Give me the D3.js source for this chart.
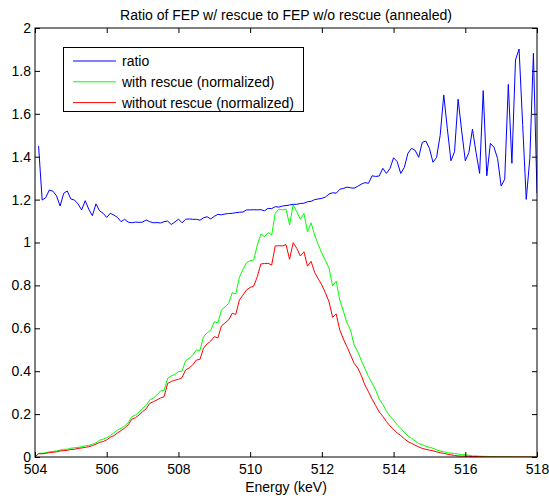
<!DOCTYPE html>
<html><head><meta charset="utf-8">
<script src="https://cdn.jsdelivr.net/npm/d3@7"></script>
<style>body{margin:0;background:#fff} text{font-family:"Liberation Sans",Arial,sans-serif}</style>
</head><body><svg id="c" width="549" height="500"></svg>
<script>
const energyStart = 504, energyStep = 0.1;
const xTicks = [504, 506, 508, 510, 512, 514, 516, 518];
const yTicks = [0, 0.2, 0.4, 0.6, 0.8, 1, 1.2, 1.4, 1.6, 1.8, 2];
const titleText = "Ratio of FEP w/ rescue to FEP w/o rescue (annealed)";
const xLabelText = "Energy (keV)";
const seriesNames = ["ratio", "with rescue (normalized)", "without rescue (normalized)"];
const seriesColors = ["#0000ff", "#00ff00", "#ff0000"];

const ratio = [null,1.45,1.198,1.209,1.245,1.239,1.218,1.170,1.229,1.240,
1.203,1.198,1.180,1.152,1.195,1.155,1.125,1.180,1.148,1.136,
1.117,1.136,1.128,1.117,1.097,1.108,1.095,1.092,1.095,1.094,
1.095,1.105,1.097,1.092,1.093,1.091,1.097,1.100,1.084,1.095,
1.109,1.092,1.108,1.110,1.108,1.108,1.104,1.115,1.120,1.110,
1.122,1.131,1.129,1.133,1.135,1.136,1.139,1.141,1.142,1.152,
1.152,1.153,1.152,1.153,1.148,1.159,1.158,1.167,1.165,1.170,
1.172,1.175,1.178,1.178,1.182,1.183,1.190,1.192,1.200,1.203,
1.206,1.212,1.226,1.232,1.230,1.248,1.252,1.258,1.255,1.253,
1.262,1.272,1.279,1.276,1.311,1.308,1.310,1.346,1.322,1.345,
1.395,1.377,1.322,1.350,1.416,1.439,1.430,1.397,1.467,1.473,
1.439,1.374,1.397,1.500,1.688,1.530,1.381,1.423,1.668,1.520,
1.381,1.419,1.528,1.420,1.322,1.708,1.311,1.462,1.444,1.392,
1.263,1.295,1.737,1.369,1.851,1.902,1.550,1.201,1.392,1.882,
1.230];

const withRescue = [0,0.018,0.017,0.020,0.024,0.026,0.028,0.032,0.036,0.036,
0.041,0.043,0.045,0.048,0.052,0.054,0.060,0.066,0.078,0.083,
0.090,0.100,0.113,0.125,0.134,0.145,0.160,0.188,0.195,0.210,
0.227,0.240,0.266,0.275,0.289,0.308,0.310,0.367,0.378,0.385,
0.398,0.400,0.449,0.460,0.475,0.499,0.497,0.560,0.580,0.590,
0.631,0.625,0.685,0.700,0.716,0.766,0.760,0.838,0.875,0.906,
0.915,0.918,0.988,1.040,1.027,1.046,1.035,1.136,1.155,1.152,
1.156,1.082,1.175,1.144,1.108,1.136,1.050,1.092,1.035,0.990,
0.950,0.915,0.880,0.797,0.820,0.732,0.680,0.625,0.592,0.522,
0.491,0.450,0.413,0.375,0.345,0.312,0.270,0.245,0.215,0.190,
0.172,0.150,0.134,0.115,0.098,0.087,0.075,0.063,0.058,0.050,
0.045,0.041,0.033,0.028,0.025,0.020,0.018,0.016,0.014,0.011,
0.010,0.008,0.005,0.005,0.004,0.003,0.003,0.002,0.002,0.001,
0.001,0.001,0.001,0,0,0,0,0,0,0,
0];

const withoutRescue = [0,0.015,0.015,0.017,0.020,0.022,0.024,0.028,0.030,0.031,
0.035,0.036,0.040,0.042,0.045,0.048,0.053,0.060,0.068,0.072,
0.080,0.092,0.100,0.112,0.123,0.135,0.150,0.176,0.183,0.195,
0.211,0.225,0.250,0.258,0.266,0.275,0.281,0.343,0.352,0.358,
0.362,0.370,0.406,0.415,0.430,0.452,0.455,0.507,0.527,0.540,
0.561,0.555,0.611,0.625,0.639,0.670,0.665,0.732,0.755,0.779,
0.790,0.797,0.841,0.900,0.902,0.903,0.895,0.984,0.985,0.984,
0.990,0.922,0.999,0.973,0.937,0.957,0.890,0.912,0.860,0.830,
0.802,0.765,0.724,0.651,0.667,0.592,0.550,0.514,0.476,0.437,
0.415,0.380,0.336,0.304,0.270,0.240,0.210,0.190,0.165,0.145,
0.129,0.112,0.100,0.085,0.072,0.064,0.055,0.047,0.040,0.036,
0.032,0.029,0.024,0.020,0.017,0.013,0.010,0.007,0.005,0.004,
0.004,0.003,0.002,0.002,0.001,0.001,0,0,0,0,
0,0,0,0,0,0,0,0,0,0,
0];

const energies = ratio.map((_, i) => +(energyStart + i * energyStep).toFixed(1));

const L = 35, R = 537, T = 28, B = 457;
const svg = d3.select("#c");
svg.append("rect").attr("width", 549).attr("height", 500).attr("fill", "#fff");

const x = d3.scaleLinear().domain([504, 518]).range([L, R]);
const y = d3.scaleLinear().domain([0, 2]).range([B, T]);

const plot = svg.append("g");
plot.append("clipPath").attr("id", "clip").append("rect")
  .attr("x", L).attr("y", T).attr("width", R - L).attr("height", B - T);

const line = d3.line().defined(d => d[1] != null).x(d => x(d[0])).y(d => y(d[1]));
const allSeries = [ratio, withRescue, withoutRescue];
allSeries.forEach((s, k) => {
  plot.append("path")
    .datum(energies.map((e, i) => [e, s[i]]))
    .attr("fill", "none").attr("stroke", seriesColors[k]).attr("stroke-width", 1)
    .attr("clip-path", "url(#clip)")
    .attr("d", line);
});

const fs = 14;
function styleAxis(g) {
  g.select(".domain").remove();
  g.selectAll("line").attr("stroke", "#000");
  g.selectAll("text").attr("font-size", fs).attr("fill", "#000").style("font-family", '"Liberation Sans",Arial,sans-serif');
}
svg.append("g").attr("transform", `translate(0,${B})`)
  .call(d3.axisBottom(x).tickValues(xTicks).tickSize(-5).tickPadding(7).tickFormat(d3.format("d")))
  .call(styleAxis);
svg.append("g").attr("transform", `translate(0,${T})`)
  .call(d3.axisTop(x).tickValues(xTicks).tickSize(-5).tickFormat(""))
  .call(styleAxis);
svg.append("g").attr("transform", `translate(${L},0)`)
  .call(d3.axisLeft(y).tickValues(yTicks).tickSize(-5).tickPadding(4).tickFormat(d3.format("~g")))
  .call(styleAxis);
svg.append("g").attr("transform", `translate(${R},0)`)
  .call(d3.axisRight(y).tickValues(yTicks).tickSize(-5).tickFormat(""))
  .call(styleAxis);

svg.append("rect").attr("x", L).attr("y", T).attr("width", R - L).attr("height", B - T)
  .attr("fill", "none").attr("stroke", "#000").attr("stroke-width", 1);

svg.append("text").attr("x", (L + R) / 2).attr("y", 20).attr("text-anchor", "middle")
  .attr("font-size", fs).text(titleText);
svg.append("text").attr("x", (L + R) / 2).attr("y", 492).attr("text-anchor", "middle")
  .attr("font-size", fs).text(xLabelText);

// legend
const lg = svg.append("g");
lg.append("rect").attr("x", 63.5).attr("y", 47.5).attr("width", 240).attr("height", 64)
  .attr("fill", "#fff").attr("stroke", "#000").attr("stroke-width", 1);
seriesNames.forEach((n, k) => {
  const cy = 61 + k * 20.8;
  lg.append("line").attr("x1", 73).attr("x2", 116).attr("y1", cy).attr("y2", cy)
    .attr("stroke", seriesColors[k]).attr("stroke-width", 1);
  lg.append("text").attr("x", 122).attr("y", cy + 5).attr("font-size", fs).text(n);
});
</script></body></html>
